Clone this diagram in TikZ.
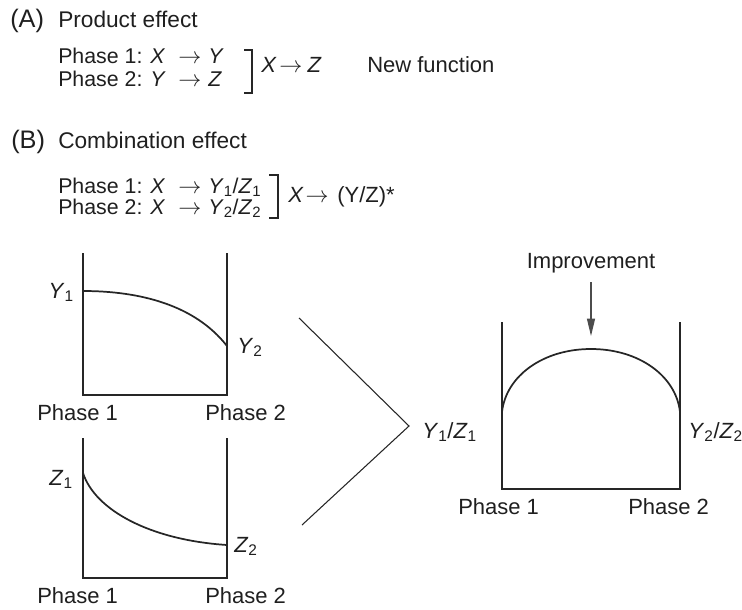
\documentclass[tikz,border=0pt]{standalone}
\usepackage{fontspec}
\setmainfont{Liberation Sans}
\usetikzlibrary{arrows.meta}
\newcommand\sv[2]{\textit{#1}\textsubscript{#2}}
\newcommand\ar{$\rightarrow$}
\begin{document}
\begin{tikzpicture}[x=0.75pt,y=-0.75pt,
  txt/.style={inner sep=0pt, anchor=base west, font=\fontsize{16.5}{18}\selectfont, text=black!88},
  txtb/.style={inner sep=0pt, anchor=base west, font=\fontsize{16}{17}\selectfont, text=black!88},
  head/.style={inner sep=0pt, anchor=base west, font=\fontsize{17}{19}\selectfont, text=black!88},
  lab/.style={inner sep=0pt, anchor=base west, font=\fontsize{19}{21}\selectfont, text=black!88},
  axis/.style={line width=0.8pt, draw=black!85},
  crv/.style={line width=1.3pt, draw=black!85},
  brk/.style={line width=0.8pt, draw=black!85},
  vline/.style={line width=0.8pt, draw=black!85}]
\useasboundingbox (0,0) rectangle (742,610);

% ---------- (A) ----------
\node[lab]  (A)  at (10,28) {(A)};
\node[head] (At) at (58,28) {Product effect};
\node[txtb] (A1) at (58,64) {\makebox[90pt][l]{Phase 1: \textit{X}}\makebox[22.5pt][l]{\ar}\textit{Y}};
\node[txtb] (A2) at (58,86) {\makebox[90pt][l]{Phase 2: \textit{Y}}\makebox[22.5pt][l]{\ar}\textit{Z}};
\coordinate (ab1) at (244,50); \coordinate (ab2) at (252,50);
\coordinate (ab3) at (252,93); \coordinate (ab4) at (244,93);
\draw[brk] (ab1) -- (ab2) -- (ab3) -- (ab4);
\node[txt] (AR) at (261,73) {\textit{X}\kern2pt\ar\kern4pt\textit{Z}};
\node[txt] (NF) at (367,73) {New function};

% ---------- (B) ----------
\node[lab]  (B)  at (11,148) {(B)};
\node[head] (Bt) at (58,148) {Combination effect};
\node[txtb] (B1) at (58,193) {\makebox[90pt][l]{Phase 1: \textit{X}}\makebox[22.5pt][l]{\ar}\sv{Y}{1}/\sv{Z}{1}};
\node[txtb] (B2) at (58,214) {\makebox[90pt][l]{Phase 2: \textit{X}}\makebox[22.5pt][l]{\ar}\sv{Y}{2}/\sv{Z}{2}};
\coordinate (bb1) at (269,175); \coordinate (bb2) at (278,175);
\coordinate (bb3) at (278,218); \coordinate (bb4) at (269,218);
\draw[brk] (bb1) -- (bb2) -- (bb3) -- (bb4);
\node[txt] (BR) at (288,202) {\textit{X}\kern1.5pt\ar\kern6.5pt(Y/Z)*};

% ---------- graph Y ----------
\coordinate (y1) at (83,253); \coordinate (y2) at (83,395);
\coordinate (y3) at (227,395); \coordinate (y4) at (227,253);
\draw[axis] (y1) -- (y2) -- (y3) -- (y4);
\coordinate (ys) at (83,291); \coordinate (ye) at (227,346);
\draw[crv] (ys) .. controls (140,291) and (195,305) .. (ye);
\node[txt, anchor=base east] (Y1) at (74,298) {\sv{Y}{1}};
\node[txt] (Y2) at (237,353) {\sv{Y}{2}};
\node[txt] (yp1) at (37,420) {Phase 1};
\node[txt] (yp2) at (205,420) {Phase 2};

% ---------- graph Z ----------
\coordinate (z1) at (83,438); \coordinate (z2) at (83,578);
\coordinate (z3) at (227,578); \coordinate (z4) at (227,438);
\draw[axis] (z1) -- (z2) -- (z3) -- (z4);
\coordinate (zs) at (83,473); \coordinate (ze) at (227,545);
\draw[crv] (zs) .. controls (95,510) and (150,540) .. (ze);
\node[txt, anchor=base east] (Z1) at (73,485) {\sv{Z}{1}};
\node[txt] (Z2) at (234,552) {\sv{Z}{2}};
\node[txt] (zp1) at (37,603) {Phase 1};
\node[txt] (zp2) at (205,603) {Phase 2};

% ---------- combining V ----------
\coordinate (v1) at (299,318); \coordinate (v2) at (409,426); \coordinate (v3) at (302,525);
\draw[vline] (v1) -- (v2) -- (v3);

% ---------- graph Y/Z ----------
\coordinate (r1) at (502,322); \coordinate (r2) at (502,489);
\coordinate (r3) at (680,489); \coordinate (r4) at (680,322);
\draw[axis] (r1) -- (r2) -- (r3) -- (r4);
\coordinate (rs) at (502,412); \coordinate (rm) at (591,349); \coordinate (re) at (680,412);
\draw[crv] (rs) .. controls (506,376) and (543,349) .. (rm) .. controls (639,349) and (676,376) .. (re);
\node[txt] (RL) at (422,438) {\sv{Y}{1}/\sv{Z}{1}};
\node[txt] (RR) at (688,438) {\sv{Y}{2}/\sv{Z}{2}};
\node[txt] (rp1) at (458,514) {Phase 1};
\node[txt] (rp2) at (628,514) {Phase 2};
\node[txt, anchor=base] (IM) at (591,268) {Improvement};
\coordinate (ia) at (591,282); \coordinate (ib) at (591,336);
\draw[line width=0.9pt, draw=black!70, -{Triangle[length=13pt,width=6pt]}] (ia) -- (ib);
\end{tikzpicture}
\end{document}
